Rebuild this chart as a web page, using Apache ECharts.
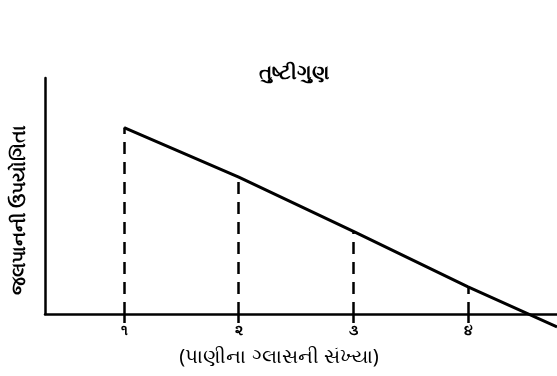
<!DOCTYPE html>
<html>
<head>
<meta charset="utf-8">
<script src="https://cdn.jsdelivr.net/npm/echarts@6/dist/echarts.min.js"></script>
<style>
  html, body { margin: 0; padding: 0; background: #fff; }
  #chart { width: 557px; height: 376px; }
</style>
</head>
<body>
<div id="chart"></div>
<script>
// glasses of water drunk, and the utility of each one
var glasses = [1, 2, 3, 4];
var tickLabels = ['૧', '૨', '૩', '૪'];
var utility = [7.9, 5.8, 3.5, 1.15];
// the line runs on past the axis after the fourth glass
var tailPoint = [4.776, -0.55];

var chart = echarts.init(document.getElementById('chart'));

var linePoints = glasses.map(function (g, i) { return [g, utility[i]]; });
linePoints.push(tailPoint);

var dropLines = glasses.map(function (g, i) {
  return [{ coord: [g, 0] }, { coord: [g, utility[i]] }];
});

var font = '"Noto Sans", "Noto Sans CJK SC", sans-serif';

chart.setOption({
  animation: false,
  textStyle: { fontFamily: font },
  title: {
    text: 'તુષ્ટીગુણ',
    left: 289,
    top: 58,
    textAlign: 'center',
    textStyle: { fontSize: 20, fontWeight: 'bold', color: '#000', fontFamily: font }
  },
  grid: { left: 45, right: 0, top: 78, bottom: 62 },
  xAxis: {
    type: 'value',
    min: 0.31,
    max: 4.776,
    name: '(પાણીના ગ્લાસની સંખ્યા)',
    nameLocation: 'middle',
    nameGap: 33,
    nameTextStyle: { fontSize: 20, color: '#000', padding: [0, 44, 0, 0] },
    axisLine: { show: true, onZero: false, lineStyle: { color: '#000', width: 2.5 } },
    axisTick: { show: true, customValues: glasses, length: 9, lineStyle: { color: '#000', width: 2.5 } },
    axisLabel: {
      customValues: glasses,
      margin: 10,
      fontSize: 14,
      fontWeight: 'bold',
      color: '#000',
      formatter: function (v) { return tickLabels[glasses.indexOf(v)]; }
    },
    splitLine: { show: false }
  },
  yAxis: {
    type: 'value',
    min: 0,
    max: 10,
    name: 'જલપાનની ઉપયોગિતા',
    nameLocation: 'middle',
    nameRotate: 90,
    nameGap: 16,
    nameTextStyle: { fontSize: 19, fontWeight: 'bold', color: '#000', padding: [0, 28, 0, 0] },
    axisLine: { show: true, lineStyle: { color: '#000', width: 2.5 } },
    axisTick: { show: false },
    axisLabel: { show: false },
    splitLine: { show: false }
  },
  series: [{
    type: 'line',
    data: linePoints,
    clip: false,
    symbol: 'none',
    lineStyle: { color: '#000', width: 3 },
    markLine: {
      silent: true,
      symbol: 'none',
      label: { show: false },
      lineStyle: { color: '#000', width: 2.5, type: [12, 8] },
      data: dropLines
    }
  }]
});
</script>
</body>
</html>
